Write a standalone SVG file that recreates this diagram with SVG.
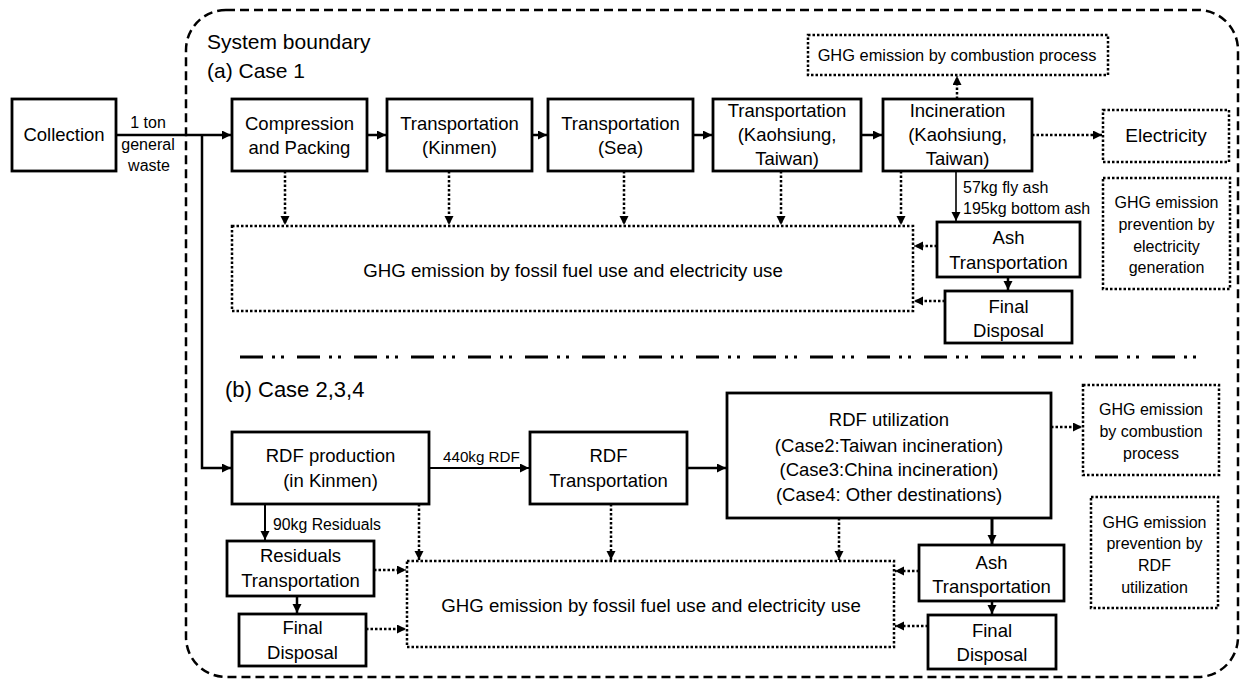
<svg xmlns="http://www.w3.org/2000/svg" width="1241" height="680" viewBox="0 0 1241 680">
<style>
.box{fill:#fff;stroke:#000;stroke-width:2.8}
.dbox{fill:none;stroke:#000;stroke-width:2.5;stroke-dasharray:2.5 2}
.t{font-family:"Liberation Sans",Arial,sans-serif;fill:#000;text-anchor:middle;font-size:18.5px}
.s{font-size:16px}
.l{font-family:"Liberation Sans",Arial,sans-serif;fill:#000;font-size:21px}
.conn{stroke:#000;stroke-width:2.5;fill:none}
.thin{stroke:#000;stroke-width:1.6;fill:none}
.dconn{stroke:#000;stroke-width:2.5;stroke-dasharray:2.5 2;fill:none}
</style>
<defs>
<marker id="ah" markerUnits="userSpaceOnUse" markerWidth="10" markerHeight="10" refX="9" refY="4.5" orient="auto">
<path d="M0,0 L9,4.5 L0,9 z" fill="#000"/>
</marker>
</defs>
<g id="boundary">
<rect x="186" y="10" width="1052" height="667" rx="40" ry="40" fill="none" stroke="#000" stroke-width="2.5" stroke-dasharray="9 5"/>
<text class="l" x="207" y="49">System boundary</text>
<text class="l" x="207" y="78">(a) Case 1</text>
<text class="l" x="225" y="397" style="font-size:22px">(b) Case 2,3,4</text>
<line x1="240" y1="357" x2="1200" y2="357" stroke="#000" stroke-width="3" stroke-dasharray="23 9 3 6 3 13"/>
</g>
<g id="connectors">
<path class="conn" d="M116,135 H231" marker-end="url(#ah)"/>
<path class="conn" d="M202,135 V468 H231" marker-end="url(#ah)"/>
<path class="conn" d="M367,135 H386" marker-end="url(#ah)"/>
<path class="conn" d="M532,135 H547" marker-end="url(#ah)"/>
<path class="conn" d="M693,135 H712" marker-end="url(#ah)"/>
<path class="conn" d="M861,135 H882" marker-end="url(#ah)"/>
<path class="dconn" d="M1032,135 H1102" marker-end="url(#ah)"/>
<path class="dconn" d="M957,99 V76" marker-end="url(#ah)"/>
<path class="thin" d="M956,171 V221" marker-end="url(#ah)"/>
<path class="conn" d="M1008,277 V290" marker-end="url(#ah)"/>
<path class="dconn" d="M285,171 V225" marker-end="url(#ah)"/>
<path class="dconn" d="M449,171 V225" marker-end="url(#ah)"/>
<path class="dconn" d="M624,171 V225" marker-end="url(#ah)"/>
<path class="dconn" d="M781,171 V225" marker-end="url(#ah)"/>
<path class="dconn" d="M901,171 V225" marker-end="url(#ah)"/>
<path class="dconn" d="M937,246 H914" marker-end="url(#ah)"/>
<path class="dconn" d="M945,301 H914" marker-end="url(#ah)"/>
<path class="thin" d="M429,468 H529" marker-end="url(#ah)" style="stroke-width:2"/>
<path class="conn" d="M687,468 H726" marker-end="url(#ah)"/>
<path class="thin" d="M265,504 V540" marker-end="url(#ah)" style="stroke-width:2"/>
<path class="conn" d="M297,596 V613" marker-end="url(#ah)"/>
<path class="conn" d="M992,518 V544" marker-end="url(#ah)" style="stroke-width:3"/>
<path class="conn" d="M992,601 V614" marker-end="url(#ah)"/>
<path class="dconn" d="M419,504 V560" marker-end="url(#ah)"/>
<path class="dconn" d="M611,504 V560" marker-end="url(#ah)"/>
<path class="dconn" d="M839,518 V560" marker-end="url(#ah)"/>
<path class="dconn" d="M374,570 H406" marker-end="url(#ah)"/>
<path class="dconn" d="M366,629 H406" marker-end="url(#ah)"/>
<path class="dconn" d="M919,571 H895" marker-end="url(#ah)"/>
<path class="dconn" d="M928,626 H895" marker-end="url(#ah)"/>
<path class="dconn" d="M1051,427 H1082" marker-end="url(#ah)"/>
<text class="t s" x="148" y="128">1 ton</text>
<text class="t s" x="148" y="150">general</text>
<text class="t s" x="149" y="171">waste</text>
<text class="t s" x="963" y="193" style="text-anchor:start">57kg fly ash</text>
<text class="t s" x="963" y="214" style="text-anchor:start">195kg bottom ash</text>
<text class="t" x="443" y="462" style="text-anchor:start;font-size:15.2px">440kg RDF</text>
<text class="t" x="273" y="530" style="text-anchor:start;font-size:15.8px">90kg Residuals</text>
</g>
<g id="collection"><rect class="box" x="12" y="99" width="104" height="72"/><text class="t" x="64" y="141">Collection</text></g>
<g id="compression"><rect class="box" x="232" y="99" width="135" height="72"/><text class="t" x="299.5" y="129.5">Compression</text><text class="t" x="299.5" y="153.5">and Packing</text></g>
<g id="trans-kinmen"><rect class="box" x="387" y="99" width="145" height="72"/><text class="t" x="459.5" y="129.5">Transportation</text><text class="t" x="459.5" y="153.5">(Kinmen)</text></g>
<g id="trans-sea"><rect class="box" x="548" y="99" width="145" height="72"/><text class="t" x="620.5" y="129.5">Transportation</text><text class="t" x="620.5" y="153.5">(Sea)</text></g>
<g id="trans-kaohsiung"><rect class="box" x="713" y="99" width="148" height="72"/><text class="t" x="787" y="117">Transportation</text><text class="t" x="787" y="141">(Kaohsiung,</text><text class="t" x="787" y="165">Taiwan)</text></g>
<g id="incineration"><rect class="box" x="883" y="99" width="149" height="72"/><text class="t" x="957.5" y="117">Incineration</text><text class="t" x="957.5" y="141">(Kaohsiung,</text><text class="t" x="957.5" y="165">Taiwan)</text></g>
<g id="ghg-combustion-1"><rect class="dbox" x="808" y="35" width="300" height="40"/><text class="t" x="957" y="61" style="font-size:16.4px">GHG emission by combustion process</text></g>
<g id="electricity"><rect class="dbox" x="1103" y="110" width="126" height="52"/><text class="t" x="1166" y="142" style="font-size:19px">Electricity</text></g>
<g id="ghg-prevention-1"><rect class="dbox" x="1103" y="178" width="127" height="111"/><text class="t s" x="1166.5" y="207.5">GHG emission</text><text class="t s" x="1166.5" y="229.5">prevention by</text><text class="t s" x="1166.5" y="251.5">electricity</text><text class="t s" x="1166.5" y="272.5">generation</text></g>
<g id="ghg-fossil-1"><rect class="dbox" x="232" y="226" width="681" height="85"/><text class="t" x="573" y="276.5" style="font-size:18.7px">GHG emission by fossil fuel use and electricity use</text></g>
<g id="ash-trans-1"><rect class="box" x="937" y="222" width="143" height="55"/><text class="t" x="1008.5" y="244">Ash</text><text class="t" x="1008.5" y="269">Transportation</text></g>
<g id="final-1"><rect class="box" x="945" y="291" width="127" height="52"/><text class="t" x="1008.5" y="313">Final</text><text class="t" x="1008.5" y="337">Disposal</text></g>
<g id="rdf-production"><rect class="box" x="232" y="432" width="197" height="72"/><text class="t" x="330.5" y="462">RDF production</text><text class="t" x="330.5" y="487">(in Kinmen)</text></g>
<g id="rdf-transportation"><rect class="box" x="530" y="432" width="157" height="72"/><text class="t" x="608.5" y="462">RDF</text><text class="t" x="608.5" y="487">Transportation</text></g>
<g id="rdf-utilization"><rect class="box" x="727" y="393" width="324" height="125"/><text class="t" x="889" y="426">RDF utilization</text><text class="t" x="889" y="452">(Case2:Taiwan incineration)</text><text class="t" x="889" y="476">(Case3:China incineration)</text><text class="t" x="889" y="501">(Case4: Other destinations)</text></g>
<g id="ghg-combustion-2"><rect class="dbox" x="1083" y="385" width="136" height="90"/><text class="t s" x="1151" y="414.5">GHG emission</text><text class="t s" x="1151" y="436.5">by combustion</text><text class="t s" x="1151" y="458.5">process</text></g>
<g id="ghg-prevention-2"><rect class="dbox" x="1091" y="497" width="127" height="111"/><text class="t s" x="1154.5" y="527.5">GHG emission</text><text class="t s" x="1154.5" y="548.5">prevention by</text><text class="t s" x="1154.5" y="570.5">RDF</text><text class="t s" x="1154.5" y="592.5">utilization</text></g>
<g id="residuals-trans"><rect class="box" x="227" y="541" width="147" height="55"/><text class="t" x="300.5" y="562">Residuals</text><text class="t" x="300.5" y="587">Transportation</text></g>
<g id="final-2a"><rect class="box" x="239" y="614" width="127" height="52"/><text class="t" x="302.5" y="634">Final</text><text class="t" x="302.5" y="659">Disposal</text></g>
<g id="ghg-fossil-2"><rect class="dbox" x="407" y="561" width="487" height="86"/><text class="t" x="651" y="611.5" style="font-size:18.7px">GHG emission by fossil fuel use and electricity use</text></g>
<g id="ash-trans-2"><rect class="box" x="919" y="545" width="145" height="56"/><text class="t" x="991.5" y="569">Ash</text><text class="t" x="991.5" y="593">Transportation</text></g>
<g id="final-2b"><rect class="box" x="928" y="615" width="128" height="54"/><text class="t" x="992" y="637">Final</text><text class="t" x="992" y="661">Disposal</text></g>
</svg>
